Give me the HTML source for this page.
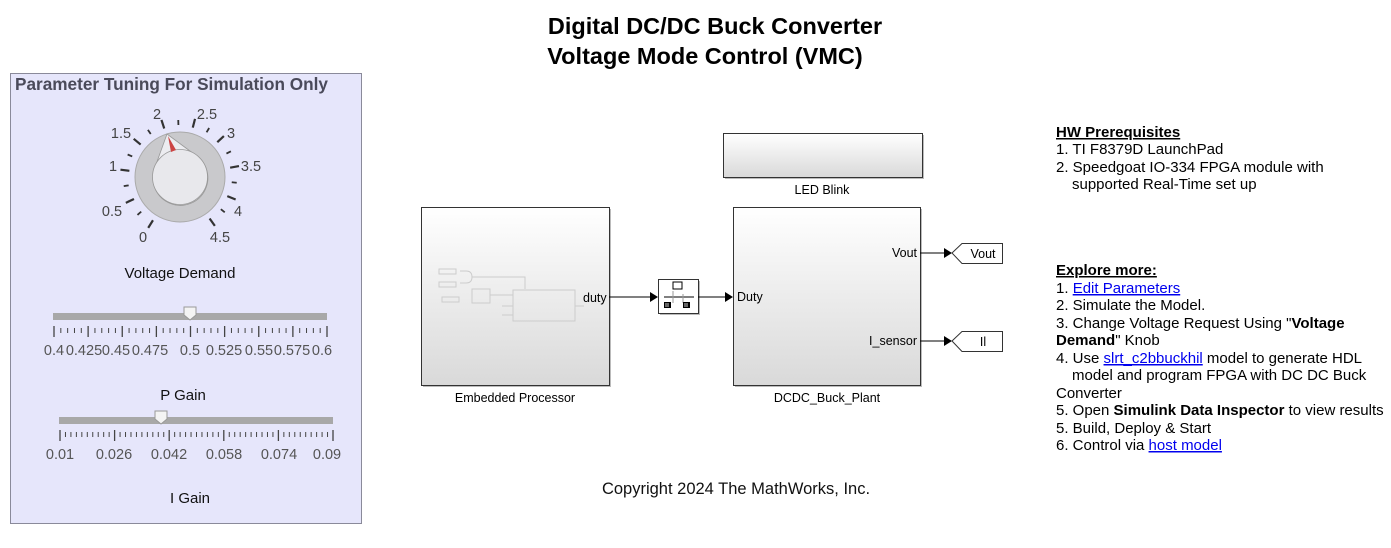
<!DOCTYPE html>
<html><head><meta charset="utf-8"><style>
html,body{margin:0;padding:0;background:#fff;}
svg{display:block;font-family:"Liberation Sans",Arial,sans-serif;}
</style></head><body>
<svg id="s" width="1391" height="548" viewBox="0 0 1391 548" xmlns="http://www.w3.org/2000/svg">
<defs>
<linearGradient id="g" x1="0" y1="0" x2="0" y2="1"><stop offset="0" stop-color="#ffffff"/><stop offset="1" stop-color="#d9d9d9"/></linearGradient>
</defs>
<text x="715" y="34" text-anchor="middle" font-size="23.5" font-weight="bold" fill="#000">Digital DC/DC Buck Converter</text>
<text x="705" y="64" text-anchor="middle" font-size="23.5" font-weight="bold" fill="#000">Voltage Mode Control (VMC)</text>

<rect x="10.5" y="73.5" width="351" height="450" fill="#e6e6fb" stroke="#8a8a9a" stroke-width="1"/>
<text x="15" y="90" font-size="17.2" font-weight="bold" fill="#4a4a5a">Parameter Tuning For Simulation Only</text>

<g id="knob">
<circle cx="180" cy="177" r="45" fill="#c9c9cc" stroke="#aaa"/>
<path d="M167,134 L154,170 A27.5,27.5 0 1,0 194,154 Z" fill="#ececf0" stroke="#999" stroke-width="0.8"/>
<circle cx="180" cy="177" r="27.5" fill="#e8e8ec" stroke="#999" stroke-width="0.8"/>
<polygon points="168,136 171,152 176,150" fill="#cc4444"/>
</g>
<g font-size="14.5" fill="#444" text-anchor="middle">
<text x="143" y="242">0</text><text x="112" y="216">0.5</text><text x="113" y="171">1</text>
<text x="121" y="138">1.5</text><text x="157" y="119">2</text><text x="207" y="119">2.5</text>
<text x="231" y="138">3</text><text x="251" y="171">3.5</text><text x="238" y="216">4</text><text x="220" y="242">4.5</text>
</g>
<g id="kt" stroke="#333" stroke-width="2"></g>
<text x="180" y="278" text-anchor="middle" font-size="15" fill="#111">Voltage Demand</text>

<rect x="53" y="313" width="274" height="7" fill="#a8a8a8"/>
<path d="M184,307 h12 v8 l-6,5 l-6,-5 z" fill="#f4f4f4" stroke="#999"/>
<g id="t1" stroke="#444" stroke-width="1"></g>
<g font-size="14.5" fill="#555" text-anchor="middle">
<text x="54" y="355">0.4</text><text x="84" y="355">0.425</text><text x="116" y="355">0.45</text><text x="150" y="355">0.475</text><text x="190" y="355">0.5</text><text x="224" y="355">0.525</text><text x="259" y="355">0.55</text><text x="292" y="355">0.575</text><text x="322" y="355">0.6</text>
</g>
<text x="183" y="400" text-anchor="middle" font-size="15" fill="#111">P Gain</text>

<rect x="59" y="417" width="274" height="7" fill="#a8a8a8"/>
<path d="M155,411 h12 v8 l-6,5 l-6,-5 z" fill="#f4f4f4" stroke="#999"/>
<g id="t2" stroke="#444" stroke-width="1"></g>
<g font-size="14.5" fill="#555" text-anchor="middle">
<text x="60" y="459">0.01</text><text x="114" y="459">0.026</text><text x="169" y="459">0.042</text><text x="224" y="459">0.058</text><text x="279" y="459">0.074</text><text x="327" y="459">0.09</text>
</g>
<text x="190" y="503" text-anchor="middle" font-size="15" fill="#111">I Gain</text>

<!-- Embedded processor -->
<rect x="423" y="209" width="188" height="178" fill="#bbb"/>
<rect x="421.5" y="207.5" width="188" height="178" fill="url(#g)" stroke="#333"/>
<g stroke="#ccc" fill="none" stroke-width="1">
<rect x="439" y="269" width="17" height="5"/><rect x="439" y="282" width="17" height="5"/><rect x="442" y="297" width="17" height="5"/>
<path d="M460,271 h6 q6,0 6,6 q0,6 -6,6 h-6"/><path d="M472,277 h53 v12"/>
<rect x="472" y="289" width="18" height="14"/><rect x="513" y="290" width="62" height="31"/>
<path d="M490,295 h23 M502,306 h11 M502,315 h11 M575,306 h9"/>
</g>
<text x="583" y="302" font-size="12.5">duty</text>
<text x="515" y="402" text-anchor="middle" font-size="12.5">Embedded Processor</text>

<line x1="609" y1="297" x2="650" y2="297" stroke="#000"/>
<polygon points="650,292 658,297 650,302" fill="#000"/>
<rect x="660" y="281" width="40" height="34" fill="#bbb"/>
<rect x="658.5" y="279.5" width="40" height="34" fill="#fff" stroke="#333"/>
<rect x="673" y="282" width="9" height="7" fill="#fff" stroke="#000"/>
<line x1="664" y1="297" x2="694" y2="297" stroke="#000"/>
<path d="M673,291 v12 M683,294 v9" stroke="#999"/>
<rect x="664" y="302" width="7" height="6" fill="#000"/><rect x="683" y="302" width="7" height="6" fill="#000"/>
<path d="M666,303 v4 M668,303 v4 M685,303 v4 M687,303 v4" stroke="#fff" stroke-width="0.8"/>
<line x1="698" y1="297" x2="725" y2="297" stroke="#000"/>
<polygon points="725,292 733,297 725,302" fill="#000"/>

<rect x="725" y="135" width="199" height="44" fill="#bbb"/>
<rect x="723.5" y="133.5" width="199" height="44" fill="url(#g)" stroke="#333"/>
<text x="822" y="194" text-anchor="middle" font-size="12.5">LED Blink</text>

<rect x="735" y="209" width="187" height="178" fill="#bbb"/>
<rect x="733.5" y="207.5" width="187" height="178" fill="url(#g)" stroke="#333"/>
<text x="737" y="301" font-size="12.5">Duty</text>
<text x="917" y="257" text-anchor="end" font-size="12.5">Vout</text>
<text x="917" y="345" text-anchor="end" font-size="12.5">I_sensor</text>
<text x="827" y="402" text-anchor="middle" font-size="12.5">DCDC_Buck_Plant</text>

<line x1="920" y1="253" x2="944" y2="253" stroke="#000"/><polygon points="944,248 952,253 944,258" fill="#000"/>
<path d="M952,253 L962,243.5 H1002.5 V263.5 H962 Z" fill="#fff" stroke="#333"/>
<text x="983" y="258" text-anchor="middle" font-size="12.5">Vout</text>
<line x1="920" y1="341" x2="944" y2="341" stroke="#000"/><polygon points="944,336 952,341 944,346" fill="#000"/>
<path d="M952,341 L962,331.5 H1002.5 V351.5 H962 Z" fill="#fff" stroke="#333"/>
<text x="983" y="346" text-anchor="middle" font-size="12.5">Il</text>

<text x="736" y="494" text-anchor="middle" font-size="16.5" fill="#111">Copyright 2024 The MathWorks, Inc.</text>

<g font-size="15" fill="#000">
<text x="1056" y="137" font-weight="bold" text-decoration="underline">HW Prerequisites</text>
<text x="1056" y="154">1. TI F8379D LaunchPad</text>
<text x="1056" y="172">2. Speedgoat IO-334 FPGA module with</text>
<text x="1072" y="189">supported Real-Time set up</text>
<text x="1056" y="275" font-weight="bold" text-decoration="underline">Explore more:</text>
<text x="1056" y="293">1. <tspan fill="#00e" text-decoration="underline">Edit Parameters</tspan></text>
<text x="1056" y="310">2. Simulate the Model.</text>
<text x="1056" y="328">3. Change Voltage Request Using "<tspan font-weight="bold">Voltage</tspan></text>
<text x="1056" y="345"><tspan font-weight="bold">Demand</tspan>" Knob</text>
<text x="1056" y="363">4. Use <tspan fill="#00e" text-decoration="underline">slrt_c2bbuckhil</tspan> model to generate HDL</text>
<text x="1072" y="380">model and program FPGA with DC DC Buck</text>
<text x="1056" y="398">Converter</text>
<text x="1056" y="415">5. Open <tspan font-weight="bold">Simulink Data Inspector</tspan> to view results</text>
<text x="1056" y="433">5. Build, Deploy &amp; Start</text>
<text x="1056" y="450">6. Control via <tspan fill="#00e" text-decoration="underline">host model</tspan></text>
</g>
</svg>
<script>
var NS="http://www.w3.org/2000/svg";
function L(g,x1,y1,x2,y2,w){var l=document.createElementNS(NS,"line");l.setAttribute("x1",x1);l.setAttribute("y1",y1);l.setAttribute("x2",x2);l.setAttribute("y2",y2);if(w)l.setAttribute("stroke-width",w);g.appendChild(l);}
var kt=document.getElementById("kt");
for(var i=0;i<=18;i++){var a=(-148+i*16.25)*Math.PI/180;var maj=i%2==0;var r1=maj?51:52,r2=maj?60:57;
L(kt,180+r1*Math.sin(a),177-r1*Math.cos(a),180+r2*Math.sin(a),177-r2*Math.cos(a),maj?2.2:1.8);}
var t1=document.getElementById("t1");
for(var i=0;i<=40;i++){var x=54+i*(273/40);var maj=i%5==0;L(t1,x,maj?326:328,x,maj?337:333,maj?1.3:1);}
var t2=document.getElementById("t2");
for(var i=0;i<=50;i++){var x=60+i*(273/50);var maj=i%10==0;L(t2,x,maj?430:432,x,maj?441:437,maj?1.3:1);}
</script>
</body></html>
